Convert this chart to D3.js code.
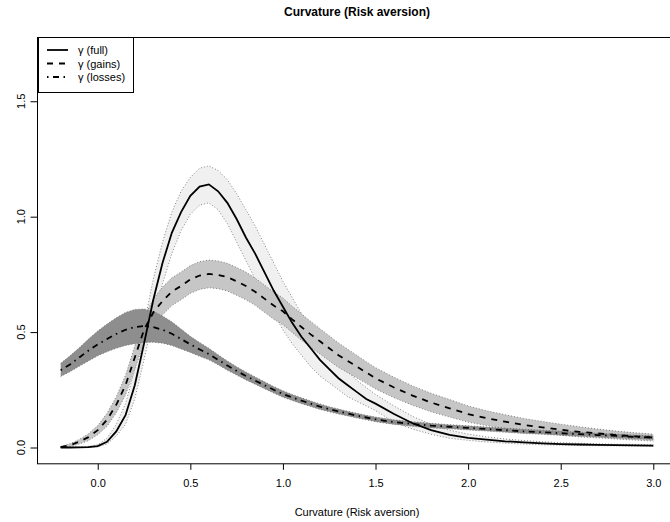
<!DOCTYPE html>
<html>
<head>
<meta charset="utf-8">
<script src="https://cdn.jsdelivr.net/npm/d3@7"></script>
<style>
  body { margin: 0; background: #fff; }
  svg { display: block; font-family: "Liberation Sans", Arial, sans-serif; }
</style>
</head>
<body>
<div id="chart"></div>
<script>
// curvature grid (x) and curves
const xs = [-0.2,-0.15,-0.1,-0.05,0,0.05,0.1,0.15,0.2,0.25,0.3,0.35,0.4,0.45,0.5,0.55,0.6,0.65,0.7,0.75,
            0.8,0.85,0.9,0.95,1.0,1.05,1.1,1.15,1.2,1.25,1.3,1.35,1.4,1.45,1.5,
            1.6,1.7,1.8,1.9,2.0,2.1,2.2,2.3,2.4,2.5,2.6,2.7,2.8,2.9,3.0];

const fullMean = [0.000,0.000,0.001,0.002,0.006,0.025,0.070,0.140,0.270,0.450,0.640,0.800,0.930,1.020,1.090,1.130,1.140,1.110,1.060,0.990,
                  0.910,0.840,0.760,0.680,0.610,0.540,0.480,0.430,0.380,0.340,0.300,0.270,0.240,0.210,0.190,
                  0.145,0.105,0.075,0.055,0.042,0.034,0.027,0.022,0.018,0.015,0.013,0.011,0.010,0.009,0.008];
const fullHi = [0.002,0.002,0.003,0.005,0.012,0.040,0.100,0.190,0.340,0.530,0.730,0.890,1.020,1.110,1.170,1.210,1.220,1.200,1.160,1.100,
                1.030,0.960,0.880,0.800,0.720,0.650,0.580,0.520,0.460,0.410,0.370,0.330,0.290,0.260,0.230,
                0.180,0.135,0.100,0.075,0.058,0.046,0.037,0.030,0.025,0.021,0.018,0.016,0.014,0.013,0.012];
const fullLo = [0.000,0.000,0.000,0.001,0.003,0.015,0.050,0.100,0.210,0.380,0.560,0.710,0.840,0.940,1.010,1.050,1.060,1.030,0.970,0.890,
                0.810,0.730,0.650,0.580,0.510,0.450,0.400,0.350,0.310,0.280,0.250,0.220,0.200,0.180,0.160,
                0.110,0.080,0.057,0.040,0.031,0.024,0.019,0.015,0.012,0.010,0.009,0.008,0.007,0.006,0.005];

const gainsMean = [0.002,0.010,0.025,0.045,0.075,0.120,0.185,0.270,0.390,0.510,0.585,0.635,0.675,0.700,0.728,0.745,0.752,0.748,0.738,0.720,
                   0.700,0.675,0.645,0.615,0.590,0.555,0.522,0.490,0.460,0.430,0.400,0.375,0.350,0.325,0.300,
                   0.260,0.225,0.195,0.170,0.145,0.127,0.112,0.098,0.087,0.077,0.068,0.061,0.054,0.048,0.043];
const gainsHi = [0.005,0.016,0.035,0.060,0.095,0.148,0.220,0.313,0.440,0.565,0.643,0.695,0.735,0.760,0.788,0.805,0.812,0.808,0.798,0.780,
                 0.760,0.734,0.704,0.674,0.648,0.612,0.579,0.546,0.515,0.484,0.453,0.426,0.399,0.372,0.346,
                 0.304,0.267,0.235,0.208,0.180,0.159,0.142,0.126,0.113,0.101,0.090,0.080,0.071,0.064,0.058];
const gainsLo = [0.000,0.004,0.015,0.030,0.055,0.092,0.150,0.227,0.340,0.455,0.527,0.575,0.615,0.640,0.668,0.685,0.692,0.688,0.678,0.660,
                 0.640,0.616,0.586,0.556,0.532,0.498,0.465,0.434,0.405,0.376,0.347,0.324,0.301,0.278,0.254,
                 0.216,0.183,0.155,0.132,0.110,0.095,0.082,0.070,0.061,0.053,0.046,0.042,0.037,0.032,0.028];

const lossMean = [0.335,0.360,0.390,0.420,0.447,0.470,0.492,0.510,0.522,0.526,0.522,0.510,0.493,0.470,0.447,0.425,0.405,0.380,0.355,0.332,
                  0.310,0.290,0.270,0.250,0.232,0.217,0.203,0.190,0.177,0.166,0.156,0.147,0.138,0.130,0.122,
                  0.110,0.102,0.095,0.090,0.085,0.080,0.075,0.070,0.066,0.062,0.058,0.054,0.050,0.046,0.043];
const lossHi = [0.365,0.397,0.432,0.470,0.505,0.535,0.562,0.585,0.598,0.600,0.590,0.570,0.545,0.513,0.482,0.455,0.430,0.402,0.375,0.350,
                0.327,0.306,0.285,0.264,0.246,0.230,0.216,0.202,0.189,0.177,0.167,0.157,0.148,0.140,0.132,
                0.120,0.112,0.105,0.099,0.094,0.089,0.084,0.079,0.075,0.071,0.066,0.062,0.058,0.054,0.051];
const lossLo = [0.308,0.328,0.352,0.375,0.397,0.415,0.430,0.442,0.450,0.455,0.456,0.452,0.442,0.427,0.412,0.395,0.380,0.358,0.335,0.314,
                0.293,0.274,0.255,0.236,0.218,0.204,0.190,0.178,0.165,0.155,0.145,0.137,0.128,0.120,0.112,
                0.100,0.092,0.085,0.081,0.076,0.071,0.066,0.061,0.057,0.053,0.050,0.046,0.042,0.038,0.035];

const xTicks = [0, 0.5, 1.0, 1.5, 2.0, 2.5, 3.0];
const yTicks = [0, 0.5, 1.0, 1.5];
const legendLabels = ["γ (full)", "γ (gains)", "γ (losses)"];

const w = 670, h = 522;
const plotL = 37, plotR = 677, plotT = 37, plotB = 463.3;

const xScale = d3.scaleLinear().domain([-0.328, 3.128]).range([plotL, plotR]);
const yScale = d3.scaleLinear().domain([-0.0684, 1.7784]).range([plotB, plotT]);

const svg = d3.select("#chart").append("svg")
  .attr("width", w)
  .attr("height", h);

// bands
const bands = [
  {hi: fullHi, lo: fullLo, fill: "#f0f0f0"},
  {hi: gainsHi, lo: gainsLo, fill: "#c6c6c6"},
  {hi: lossHi, lo: lossLo, fill: "#8e8e8e"}
];
const area = d3.area()
  .x(d => xScale(d.x))
  .y0(d => yScale(d.lo))
  .y1(d => yScale(d.hi));
const edge = d3.line().x(d => xScale(d[0])).y(d => yScale(d[1]));

bands.forEach(b => {
  const pts = xs.map((x, i) => ({x: x, lo: b.lo[i], hi: b.hi[i]}));
  svg.append("path").attr("d", area(pts)).attr("fill", b.fill);
  [b.hi, b.lo].forEach(arr => {
    svg.append("path")
      .attr("d", edge(xs.map((x, i) => [x, arr[i]])))
      .attr("fill", "none")
      .attr("stroke", "#666")
      .attr("stroke-width", 0.8)
      .attr("stroke-dasharray", "1,2");
  });
});

// mean lines
const lines = [
  {vals: fullMean, dash: null},
  {vals: gainsMean, dash: "6,6"},
  {vals: lossMean, dash: "1.5,4.5,6,4.5"}
];
lines.forEach(l => {
  svg.append("path")
    .attr("d", edge(xs.map((x, i) => [x, l.vals[i]])))
    .attr("fill", "none")
    .attr("stroke", "#000")
    .attr("stroke-width", 1.8)
    .attr("stroke-dasharray", l.dash);
});

// box
svg.append("rect")
  .attr("x", plotL + 0.5).attr("y", plotT + 0.5)
  .attr("width", plotR - plotL).attr("height", plotB - plotT)
  .attr("fill", "none").attr("stroke", "#000").attr("stroke-width", 1);

// x axis
const xAxis = d3.axisBottom(xScale)
  .tickValues(xTicks)
  .tickFormat(d3.format(".1f"))
  .tickSize(6)
  .tickPadding(9)
  .tickSizeOuter(0);
const gx = svg.append("g")
  .attr("transform", "translate(0," + (plotB + 0.5) + ")")
  .call(xAxis);
gx.select(".domain").remove();
gx.selectAll("text").attr("font-size", 11).attr("font-family", "Liberation Sans, Arial, sans-serif").attr("fill", "#000");

// y axis
const yAxis = d3.axisLeft(yScale)
  .tickValues(yTicks)
  .tickFormat("")
  .tickSize(7)
  .tickSizeOuter(0);
const gy = svg.append("g")
  .attr("transform", "translate(" + (plotL + 0.5) + ",0)")
  .call(yAxis);
gy.select(".domain").remove();

svg.selectAll(".ylab")
  .data(yTicks)
  .enter()
  .append("text")
  .attr("class", "ylab")
  .attr("transform", d => "translate(25," + yScale(d) + ") rotate(-90)")
  .attr("text-anchor", "middle")
  .attr("font-size", 11)
  .text(d3.format(".1f"));

// titles
svg.append("text")
  .attr("x", (plotL + plotR) / 2).attr("y", 16)
  .attr("text-anchor", "middle")
  .attr("font-size", 12).attr("font-weight", "bold")
  .text("Curvature (Risk aversion)");
svg.append("text")
  .attr("x", (plotL + plotR) / 2).attr("y", 516)
  .attr("text-anchor", "middle")
  .attr("font-size", 11)
  .text("Curvature (Risk aversion)");

// legend
const lg = svg.append("g");
lg.append("rect")
  .attr("x", 38.5).attr("y", 37.5).attr("width", 95).attr("height", 55)
  .attr("fill", "#fff").attr("stroke", "#000");
legendLabels.forEach((t, i) => {
  const y = 50 + i * 13.5;
  lg.append("line")
    .attr("x1", 47).attr("x2", 68).attr("y1", y).attr("y2", y)
    .attr("stroke", "#000").attr("stroke-width", 1.8)
    .attr("stroke-dasharray", lines[i].dash);
  lg.append("text")
    .attr("x", 78).attr("y", y + 4)
    .attr("font-size", 11)
    .text(t);
});
</script>
</body>
</html>
